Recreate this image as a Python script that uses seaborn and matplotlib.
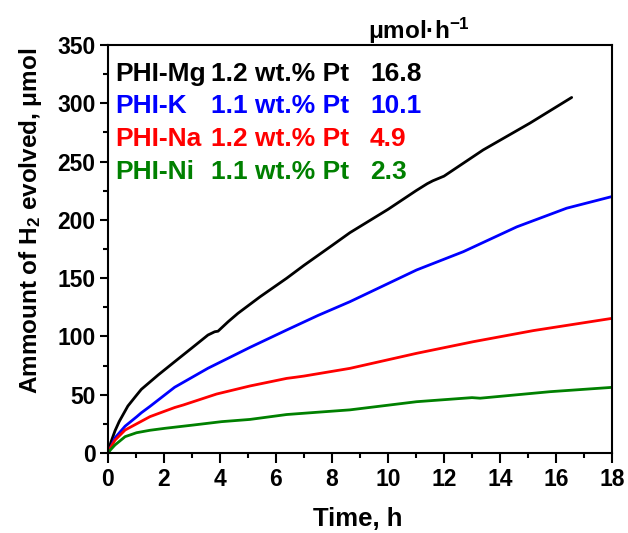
import numpy as np
import pandas as pd
import matplotlib
matplotlib.use("Agg")
import matplotlib.pyplot as plt
import seaborn as sns
from matplotlib.ticker import MultipleLocator

# ---- data ----
t_mg = [0, 0.1, 0.25, 0.4, 0.71, 1.0, 1.19, 1.79, 2.38, 2.98, 3.57, 3.81, 3.93, 4.29, 4.64, 5.43, 6.38, 7.0, 8.0, 8.64, 10.0, 11.0, 11.4, 11.6, 12.0, 13.4, 15.07, 16.56]
y_mg = [0, 9, 19, 27, 40.3, 49, 54.6, 66.9, 78.3, 89.8, 101.2, 104, 104.5, 112.6, 119.8, 134, 149.9, 161, 178, 189, 209, 225, 231, 233.5, 237.5, 260, 283, 305]

t_k = [0, 0.1, 0.25, 0.61, 1.02, 1.19, 1.5, 2.38, 3.57, 5.07, 6.38, 7.5, 8.64, 11.02, 12.69, 14.6, 16.38, 18]
y_k = [0, 5, 13, 23, 31, 34.5, 40, 56.4, 72.7, 90.6, 105.5, 118, 129.8, 157, 172.7, 194, 210, 220]

t_na = [0, 0.1, 0.25, 0.61, 1.02, 1.5, 2.04, 2.38, 2.69, 3.88, 5.07, 6.38, 6.7, 7.0, 8.64, 11.02, 13.05, 15.19, 18]
y_na = [0, 5, 11, 19.7, 25, 31.2, 36, 39, 41.2, 50.6, 57.5, 64, 65, 66, 72.6, 85.5, 95.5, 105, 115.5]

t_ni = [0, 0.1, 0.25, 0.61, 1.02, 1.5, 2.04, 3.05, 4.06, 5.07, 6.38, 7.5, 8.64, 11.02, 13.0, 13.29, 15.79, 18]
y_ni = [0, 3, 6.9, 14, 17.4, 19.5, 21.2, 24, 26.9, 28.8, 33, 35, 37, 44, 47.5, 47, 52.6, 56.3]

samples = ["PHI-Mg", "PHI-K", "PHI-Na", "PHI-Ni"]
loadings = ["1.2 wt.% Pt", "1.1 wt.% Pt", "1.2 wt.% Pt", "1.1 wt.% Pt"]
rates = ["16.8", "10.1", "4.9", "2.3"]
colors = ["#000000", "#0000FF", "#FF0000", "#008000"]

x_ticks = list(range(0, 19, 2))
y_ticks = list(range(0, 351, 50))

series = [(t_mg, y_mg), (t_k, y_k), (t_na, y_na), (t_ni, y_ni)]
frames = []
for name, (t, y) in zip(samples, series):
    frames.append(pd.DataFrame({"t": t, "v": y, "sample": name}))
df = pd.concat(frames, ignore_index=True)

# ---- style ----
sns.set_theme(style="ticks")
plt.rcParams["font.family"] = ["Liberation Sans", "DejaVu Sans"]
plt.rcParams["font.weight"] = "bold"
plt.rcParams["mathtext.default"] = "regular"
plt.rcParams["text.color"] = "black"
plt.rcParams["axes.labelcolor"] = "black"
plt.rcParams["xtick.color"] = "black"
plt.rcParams["ytick.color"] = "black"

fig = plt.figure(figsize=(6.28, 5.33), dpi=100)
ax = fig.add_axes([108 / 628, 80 / 533, 504 / 628, 408 / 533])

sns.lineplot(data=df, x="t", y="v", hue="sample", hue_order=samples,
             palette=dict(zip(samples, colors)), linewidth=2.0,
             estimator=None, sort=False, legend=False, ax=ax)

ax.set_xlim(0, 18)
ax.set_ylim(0, 350)
ax.set_xticks(x_ticks)
ax.set_yticks(y_ticks)
ax.xaxis.set_minor_locator(MultipleLocator(1))
ax.yaxis.set_minor_locator(MultipleLocator(25))
ax.tick_params(axis="both", which="major", direction="out", length=6, width=1.5,
               labelsize=16.5, pad=3, top=False, right=False)
ax.tick_params(axis="both", which="minor", direction="out", length=3.5, width=1.5,
               top=False, right=False)
ax.tick_params(axis="x", which="major", length=7, pad=4)
for lab in ax.get_xticklabels() + ax.get_yticklabels():
    lab.set_fontweight("bold")
for s in ax.spines.values():
    s.set_visible(True)
    s.set_linewidth(1.5)
    s.set_color("black")

ax.set_xlabel("Time, h", fontsize=18.5, fontweight="bold")
ax.set_ylabel("Ammount of H$_2$ evolved, μmol", fontsize=17.5, fontweight="bold")
ax.xaxis.set_label_coords(0.496, -0.133)
ax.yaxis.set_label_coords(-0.127, 0.569)

# in-plot legend table
fs_leg = 19
row_y = [0.929, 0.8505, 0.7696, 0.6887]
for name, load, rate, col, yy in zip(samples, loadings, rates, colors, row_y):
    ax.text(0.0139, yy, name, transform=ax.transAxes, color=col, fontsize=fs_leg,
            fontweight="bold", va="center", ha="left")
    ax.text(0.2044, yy, load, transform=ax.transAxes, color=col, fontsize=fs_leg,
            fontweight="bold", va="center", ha="left")
    ax.text(0.5198, yy, rate, transform=ax.transAxes, color=col, fontsize=fs_leg,
            fontweight="bold", va="center", ha="left")

ax.text(0.516, 1.014, "μmol·h$^{-1}$", transform=ax.transAxes, color="black",
        fontsize=17.5, fontweight="bold", va="baseline", ha="left")

fig.savefig("out.png", dpi=100)
